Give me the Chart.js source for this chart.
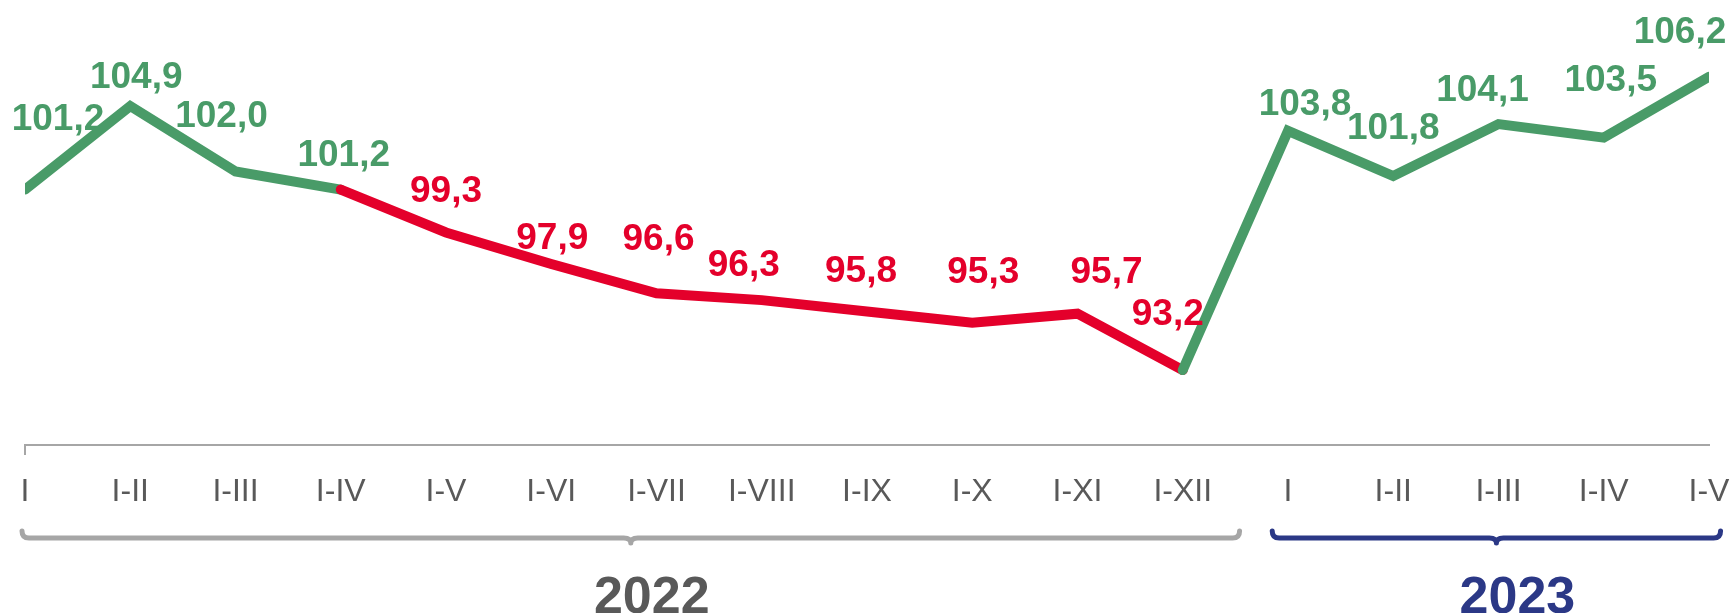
<!DOCTYPE html>
<html>
<head>
<meta charset="utf-8">
<script src="https://cdn.jsdelivr.net/npm/chart.js@4/dist/chart.umd.min.js"></script>
<style>
  html, body { margin: 0; padding: 0; background: #ffffff; }
  #c { display: block; }
</style>
</head>
<body>
<canvas id="c" width="1731" height="613"></canvas>
<script>
// ---- data ----
const categories = ['I','I-II','I-III','I-IV','I-V','I-VI','I-VII','I-VIII','I-IX','I-X','I-XI','I-XII','I','I-II','I-III','I-IV','I-V'];
const values = [101.2, 104.9, 102.0, 101.2, 99.3, 97.9, 96.6, 96.3, 95.8, 95.3, 95.7, 93.2, 103.8, 101.8, 104.1, 103.5, 106.2];
const yearLabels = ['2022', '2023'];
const yearFirstIndex = [0, 12];
const yearLastIndex = [11, 16];
const redFrom = 3;   // segment I-IV -> I-XII drawn red (below 100)
const redTo = 11;

// ---- styles / label placement ----
const GREEN = '#499b68';
const RED = '#e4002b';
const TICK = '#595959';
const GREY = '#a6a6a6';
const NAVY = '#2b3886';
const labelOffsets = [
  [33,-73],[6,-31],[-14,-58],[3,-37],[0,-43],[1,-28],[2,-56],[-18,-37],[-6,-42],
  [11,-53],[29,-44],[-15,-58],[17,-29],[0,-50],[-16,-36],[7,-60],[-29,-47]
];
const fmt = v => v.toFixed(1).replace('.', ',');
const isRedPoint = i => i > redFrom && i <= redTo;

function drawBracket(ctx, x1, x2, yb, color) {
  const mid = (x1 + x2) / 2, r = 7;
  ctx.beginPath();
  ctx.moveTo(x1, yb - r);
  ctx.quadraticCurveTo(x1, yb, x1 + r, yb);
  ctx.lineTo(mid - 7, yb);
  ctx.quadraticCurveTo(mid, yb, mid, yb + 5);
  ctx.quadraticCurveTo(mid, yb, mid + 7, yb);
  ctx.lineTo(x2 - r, yb);
  ctx.quadraticCurveTo(x2, yb, x2, yb - r);
  ctx.lineWidth = 5;
  ctx.strokeStyle = color;
  ctx.lineCap = 'round';
  ctx.lineJoin = 'round';
  ctx.stroke();
  return mid;
}

const overlay = {
  id: 'overlay',
  afterDatasetsDraw(chart) {
    const { ctx, scales: { x, y } } = chart;
    ctx.save();
    ctx.font = 'bold 37px "Liberation Sans", Arial, sans-serif';
    ctx.textAlign = 'center';
    ctx.textBaseline = 'alphabetic';
    values.forEach((v, i) => {
      const px = x.getPixelForValue(i), py = y.getPixelForValue(v);
      ctx.fillStyle = isRedPoint(i) ? RED : GREEN;
      ctx.fillText(fmt(v), px + labelOffsets[i][0], py + labelOffsets[i][1] + 13);
    });
    ctx.restore();
  },
  afterDraw(chart) {
    const { ctx, scales: { x }, chartArea } = chart;
    ctx.save();
    const step = x.getPixelForValue(1) - x.getPixelForValue(0);
    const yb = chartArea.bottom + 93;
    const colors = [GREY, NAVY];
    const textColors = [TICK, NAVY];
    const pads = [[-3, 0.54], [-0.15, 0.11]];
    yearLabels.forEach((lab, k) => {
      const x1 = x.getPixelForValue(yearFirstIndex[k]) + (k === 0 ? pads[0][0] : pads[1][0] * step);
      const x2 = x.getPixelForValue(yearLastIndex[k]) + pads[k][1] * step;
      const mid = drawBracket(ctx, x1, x2, yb, colors[k]);
      ctx.font = 'bold 52px "Liberation Sans", Arial, sans-serif';
      ctx.textAlign = 'center';
      ctx.textBaseline = 'alphabetic';
      ctx.fillStyle = textColors[k];
      ctx.fillText(lab, mid + 21, yb + 75);
    });
    ctx.restore();
  }
};

new Chart(document.getElementById('c'), {
  type: 'line',
  data: {
    labels: categories,
    datasets: [{
      data: values,
      borderColor: GREEN,
      borderWidth: 10,
      borderCapStyle: 'round',
      borderJoinStyle: 'miter',
      pointRadius: 0,
      tension: 0,
      clip: 0,
      segment: {
        borderColor: c => (c.p0DataIndex >= redFrom && c.p1DataIndex <= redTo) ? RED : GREEN
      }
    }]
  },
  options: {
    responsive: false,
    animation: false,
    devicePixelRatio: 1,
    layout: { padding: { left: 25, right: 22, top: 0, bottom: 0 } },
    plugins: { legend: { display: false }, tooltip: { enabled: false } },
    scales: {
      x: {
        offset: false,
        afterFit: s => { s.height = 168; s.paddingLeft = 0; s.paddingRight = 0; },
        border: { display: true, color: GREY, width: 2 },
        grid: {
          display: true,
          drawOnChartArea: false,
          drawTicks: true,
          tickLength: 10,
          lineWidth: 2,
          color: c => c.index === 0 ? GREY : 'rgba(0,0,0,0)'
        },
        ticks: {
          color: TICK,
          font: { family: '"Liberation Sans", Arial, sans-serif', size: 32 },
          padding: 18,
          maxRotation: 0,
          autoSkip: false
        }
      },
      y: {
        display: false,
        min: 89.88,
        max: 109.6
      }
    }
  },
  plugins: [overlay]
});
</script>
</body>
</html>
